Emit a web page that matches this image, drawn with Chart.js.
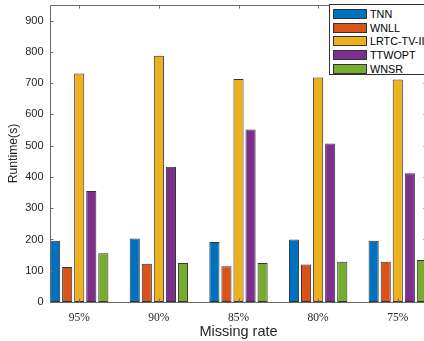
<!DOCTYPE html>
<html>
<head>
<meta charset="utf-8">
<script src="https://cdn.jsdelivr.net/npm/chart.js@4"></script>
<style>
  html, body { margin: 0; padding: 0; background: #fff; overflow: hidden; }
  #wrap { position: relative; width: 430px; height: 341px; }
  #legend { position: absolute; left: 329px; top: 4px; width: 120px; height: 71px;
            border: 1px solid #333; background: #fff; box-sizing: border-box;
            font-family: "Liberation Sans", Arial, sans-serif; font-size: 10.8px; color: #000; }
  .item { position: absolute; left: 3px; height: 10px; }
  .sw { position: absolute; left: 0; top: 0; width: 34px; height: 10px; box-sizing: border-box; border: 1px solid #333; }
  .lb { position: absolute; left: 37px; top: -1px; line-height: 12px; white-space: nowrap; }
</style>
</head>
<body>
<div id="wrap">
  <canvas id="c" width="430" height="341"></canvas>
  <div id="legend"></div>
</div>
<script>
const categories = ['95%', '90%', '85%', '80%', '75%'];
const seriesNames = ['TNN', 'WNLL', 'LRTC-TV-II', 'TTWOPT', 'WNSR'];
const TNN    = [196, 203, 192, 200, 196];
const WNLL   = [112, 122, 114, 120, 129];
const LRTC   = [731, 788, 713, 718, 712];
const TTWOPT = [355, 433, 552, 507, 412];
const WNSR   = [156, 125, 125, 129, 134];
const yTicks = [0, 100, 200, 300, 400, 500, 600, 700, 800, 900];
const colors = ['#0072BD', '#D95319', '#EDB120', '#7E2F8E', '#77AC30'];

const seriesValues = [TNN, WNLL, LRTC, TTWOPT, WNSR];
const datasets = seriesValues.map((vals, k) => ({
  label: seriesNames[k],
  data: vals.map((v, i) => ({ x: i + 1, y: v })),
  backgroundColor: colors[k],
  borderColor: '#333333',
  borderWidth: 1,
  borderSkipped: false,
  categoryPercentage: 0.757,
  barPercentage: 0.84
}));

const axisColor = '#6b6b6b';
const boxPlugin = {
  id: 'box',
  afterDraw(chart) {
    const { ctx, chartArea: a } = chart;
    const xs = chart.scales.x, ys = chart.scales.y;
    ctx.save();
    ctx.strokeStyle = axisColor;
    ctx.lineWidth = 1;
    ctx.beginPath();
    ctx.rect(Math.round(a.left) + 0.5, Math.round(a.top) + 0.5, Math.round(a.right - a.left), Math.round(a.bottom - a.top));
    const tl = 3.5;
    yTicks.forEach(v => {
      const y = Math.round(ys.getPixelForValue(v)) + 0.5;
      ctx.moveTo(a.left, y); ctx.lineTo(a.left + tl, y);
      ctx.moveTo(a.right, y); ctx.lineTo(a.right - tl, y);
    });
    categories.forEach((c, i) => {
      const x = Math.round(xs.getPixelForValue(i + 1)) + 0.5;
      ctx.moveTo(x, a.top); ctx.lineTo(x, a.top + tl);
      ctx.moveTo(x, a.bottom); ctx.lineTo(x, a.bottom - tl);
    });
    ctx.stroke();
    ctx.restore();
  }
};

new Chart(document.getElementById('c'), {
  type: 'bar',
  data: { datasets },
  options: {
    responsive: false,
    animation: false,
    layout: { padding: { left: 0, top: 5, right: 3, bottom: 0 } },
    plugins: { legend: { display: false }, tooltip: { enabled: false } },
    scales: {
      x: {
        type: 'linear',
        offset: false,
        min: 0.633,
        max: 5.367,
        grid: { display: false, offset: false, drawTicks: false },
        border: { display: false },
        afterBuildTicks(scale) { scale.ticks = categories.map((c, i) => ({ value: i + 1 })); },
        afterFit(scale) { scale.height = 39; scale.paddingLeft = 0; scale.paddingRight = 0; },
        ticks: {
          padding: 9,
          color: '#262626',
          font: { family: '"Liberation Serif", "Times New Roman", serif', size: 11.5 },
          callback: (v) => categories[Math.round(v) - 1] || ''
        },
        title: {
          display: true, text: 'Missing rate', color: '#262626',
          font: { family: '"Liberation Sans", Arial, sans-serif', size: 14.5, lineHeight: 1 },
          padding: { top: 0, bottom: 1.5 }
        }
      },
      y: {
        min: 0,
        max: 950,
        grid: { display: false, drawTicks: false },
        border: { display: false },
        afterBuildTicks(scale) { scale.ticks = yTicks.map(v => ({ value: v })); },
        afterFit(scale) { scale.width = 50; scale.paddingTop = 0; scale.paddingBottom = 0; },
        ticks: {
          padding: 6.5,
          color: '#262626',
          font: { family: '"Liberation Sans", Arial, sans-serif', size: 11 }
        },
        title: {
          display: true, text: 'Runtime(s)', color: '#262626',
          font: { family: '"Liberation Sans", Arial, sans-serif', size: 12.2, lineHeight: 1 },
          padding: { top: 8, bottom: 0 }
        }
      }
    }
  },
  plugins: [boxPlugin]
});

const legend = document.getElementById('legend');
const rowTops = [4, 17.5, 31, 45, 59];
seriesNames.forEach((n, k) => {
  const it = document.createElement('div');
  it.className = 'item';
  it.style.top = (rowTops[k]) + 'px';
  const sw = document.createElement('div');
  sw.className = 'sw';
  sw.style.background = colors[k];
  const lb = document.createElement('div');
  lb.className = 'lb';
  lb.textContent = n;
  it.appendChild(sw); it.appendChild(lb);
  legend.appendChild(it);
});
</script>
</body>
</html>
